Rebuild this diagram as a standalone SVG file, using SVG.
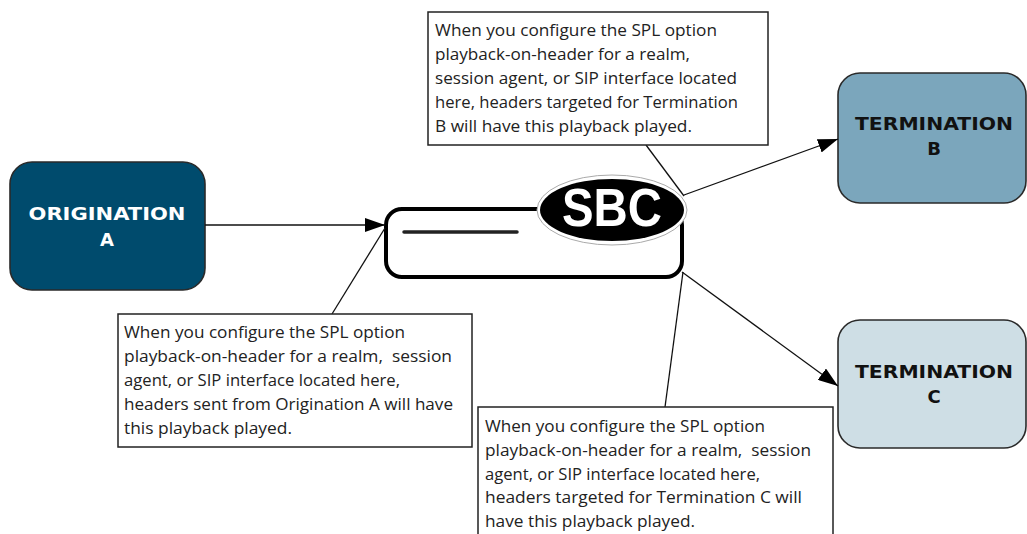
<svg xmlns="http://www.w3.org/2000/svg" width="1027" height="534" viewBox="0 0 1027 534">
<style>
.node{stroke:#2a2a2a;stroke-width:1.6}
.title{font-family:"DejaVu Sans",sans-serif;font-weight:bold;font-size:18px;text-anchor:middle}
.note rect{fill:#fff;stroke:#222;stroke-width:1.5}
.note text{font-family:"Open Sans","Liberation Sans",sans-serif;font-size:15.5px;fill:#222}
.conn{stroke:#111;stroke-width:1.3;fill:none}
</style>
<defs>
<marker id="arr" viewBox="0 0 20 14" refX="20" refY="7" markerWidth="20" markerHeight="14" markerUnits="userSpaceOnUse" orient="auto">
<path d="M0,0 L20,7 L0,14 Z" fill="#000"/>
</marker>
</defs>
<g id="origination-a">
<rect class="node" x="10" y="162" width="195" height="128" rx="22" fill="#004b6d"/>
<text class="title" x="107" y="220" fill="#fff" textLength="157" lengthAdjust="spacingAndGlyphs">ORIGINATION</text>
<text class="title" x="107" y="246" fill="#fff">A</text>
</g>
<g id="termination-b">
<rect class="node" x="838" y="73" width="188" height="130" rx="22" fill="#7ba6bc"/>
<text class="title" x="934" y="130" fill="#111" textLength="158" lengthAdjust="spacingAndGlyphs">TERMINATION</text>
<text class="title" x="934" y="155" fill="#111">B</text>
</g>
<g id="termination-c">
<rect class="node" x="838" y="320" width="188" height="128" rx="22" fill="#cedee5"/>
<text class="title" x="934" y="378" fill="#111" textLength="158" lengthAdjust="spacingAndGlyphs">TERMINATION</text>
<text class="title" x="934" y="403" fill="#111">C</text>
</g>
<g id="sbc">
<rect x="386" y="209" width="296" height="68" rx="16" fill="#fff" stroke="#000" stroke-width="4"/>
<line x1="404" y1="232" x2="517" y2="232" stroke="#222" stroke-width="3.5" stroke-linecap="round"/>
<ellipse cx="612" cy="210" rx="75" ry="35" fill="#fff" stroke="#aaa" stroke-width="1"/>
<ellipse cx="612" cy="210" rx="72" ry="31" fill="#000"/>
<text x="612" y="226" fill="#fff" font-family="Liberation Sans,Arial,sans-serif" font-weight="bold" font-size="54" text-anchor="middle" textLength="100" lengthAdjust="spacingAndGlyphs">SBC</text>
</g>
<g id="connectors">
<line class="conn" x1="205" y1="225" x2="385" y2="225" marker-end="url(#arr)"/>
<line class="conn" x1="684" y1="195" x2="838" y2="139" marker-end="url(#arr)"/>
<line class="conn" x1="682" y1="272" x2="838" y2="386" marker-end="url(#arr)"/>
<line class="conn" x1="646" y1="145" x2="684" y2="196"/>
<line class="conn" x1="332" y1="314" x2="385" y2="228"/>
<line class="conn" x1="665" y1="407" x2="683" y2="272"/>
</g>
<g id="note-b" class="note">
<rect x="428" y="12" width="340" height="133"/>
<text x="435" y="36" textLength="282" lengthAdjust="spacingAndGlyphs">When you configure the SPL option</text>
<text x="435" y="60" textLength="255" lengthAdjust="spacingAndGlyphs">playback-on-header for a realm,</text>
<text x="435" y="84" textLength="302" lengthAdjust="spacingAndGlyphs">session agent, or SIP interface located</text>
<text x="435" y="108" textLength="303" lengthAdjust="spacingAndGlyphs">here, headers targeted for Termination</text>
<text x="435" y="132" textLength="257" lengthAdjust="spacingAndGlyphs">B will have this playback played.</text>
</g>
<g id="note-a" class="note">
<rect x="118" y="314" width="354" height="133"/>
<text x="124" y="338" textLength="281" lengthAdjust="spacingAndGlyphs">When you configure the SPL option</text>
<text x="124" y="362" textLength="328" lengthAdjust="spacingAndGlyphs" xml:space="preserve">playback-on-header for a realm,  session</text>
<text x="124" y="386" textLength="276" lengthAdjust="spacingAndGlyphs">agent, or SIP interface located here,</text>
<text x="124" y="410" textLength="329" lengthAdjust="spacingAndGlyphs">headers sent from Origination A will have</text>
<text x="124" y="434" textLength="168" lengthAdjust="spacingAndGlyphs">this playback played.</text>
</g>
<g id="note-c" class="note">
<rect x="478" y="407" width="355" height="140"/>
<text x="485" y="432" textLength="280" lengthAdjust="spacingAndGlyphs">When you configure the SPL option</text>
<text x="485" y="456" textLength="326" lengthAdjust="spacingAndGlyphs" xml:space="preserve">playback-on-header for a realm,  session</text>
<text x="485" y="480" textLength="275" lengthAdjust="spacingAndGlyphs">agent, or SIP interface located here,</text>
<text x="485" y="503" textLength="317" lengthAdjust="spacingAndGlyphs">headers targeted for Termination C will</text>
<text x="485" y="527" textLength="210" lengthAdjust="spacingAndGlyphs">have this playback played.</text>
</g>
</svg>
